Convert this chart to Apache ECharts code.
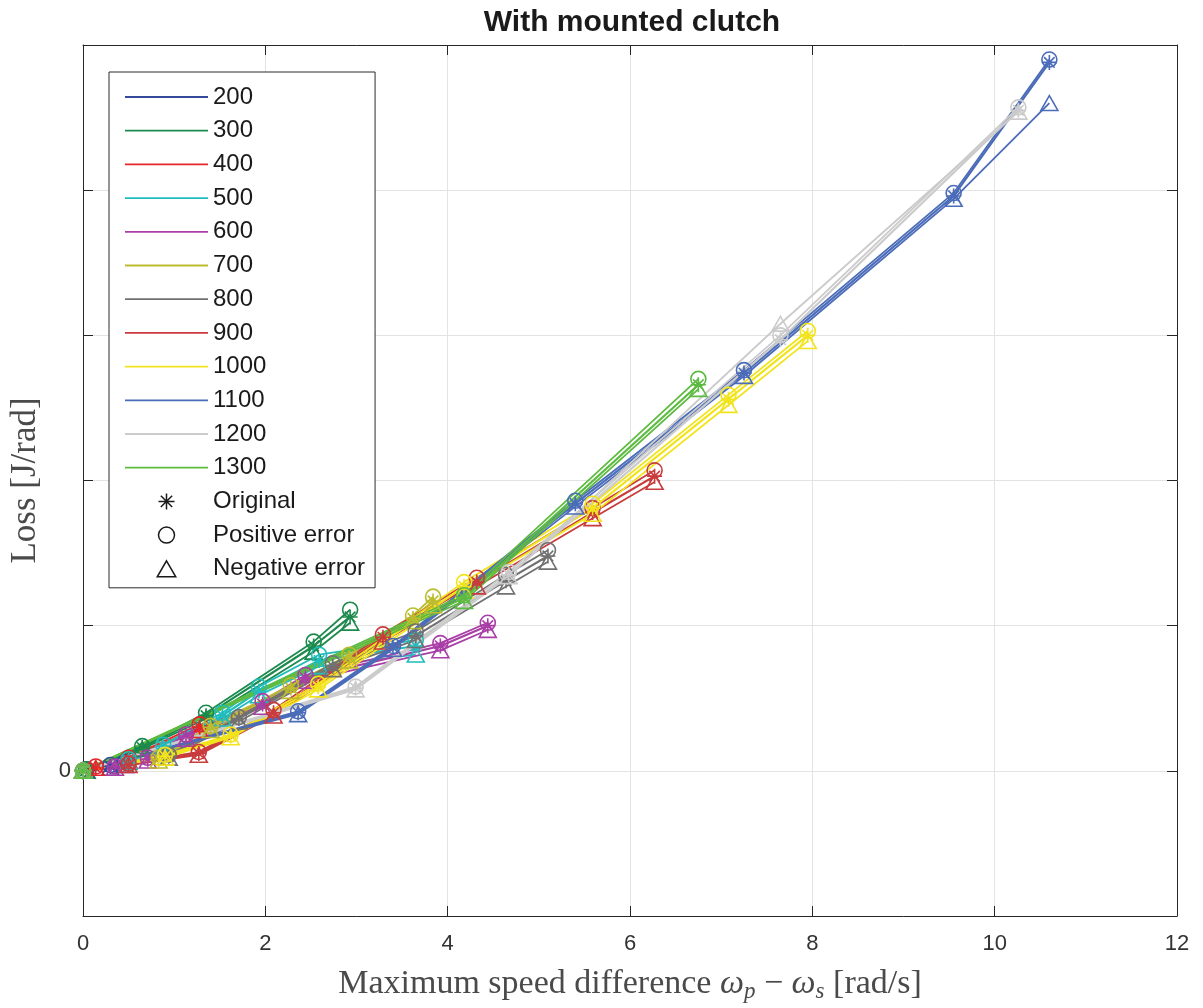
<!DOCTYPE html>
<html>
<head>
<meta charset="utf-8">
<title>With mounted clutch</title>
<script src="https://cdn.jsdelivr.net/npm/echarts@6/dist/echarts.min.js"></script>
<style>
  html, body { margin: 0; padding: 0; background: #ffffff; overflow: hidden; }
  #chart { width: 1203px; height: 1008px; }
</style>
</head>
<body>
<div id="chart"></div>
<script>
// Loss per radian against maximum speed difference, one curve family per speed.
// Each family: original estimate plus positive and negative error bounds.

const speeds = ['200', '300', '400', '500', '600', '700', '800', '900', '1000', '1100', '1200', '1300'];

const x200 = [0, 0.04, 0.30, 0.46];
const orig200 = [0, 0.01, 0.03, 0.05];
const pos200 = [0, 0.01, 0.04, 0.06];
const neg200 = [0, 0.00, 0.02, 0.04];

const x300 = [0, 0.03, 0.65, 1.35, 2.53, 2.93];
const orig300 = [0, 0.01, 0.16, 0.38, 0.86, 1.06];
const pos300 = [0, 0.01, 0.17, 0.40, 0.89, 1.11];
const neg300 = [0, 0.00, 0.15, 0.36, 0.82, 1.02];

const x400 = [0, 0.14, 0.50, 1.28];
const orig400 = [0, 0.02, 0.08, 0.30];
const pos400 = [0, 0.03, 0.09, 0.32];
const neg400 = [0, 0.02, 0.07, 0.28];

const x500 = [0, 0.50, 0.88, 1.53, 1.93, 2.59, 3.65];
const orig500 = [0, 0.07, 0.17, 0.38, 0.55, 0.76, 0.86];
const pos500 = [0, 0.08, 0.18, 0.40, 0.58, 0.80, 0.90];
const neg500 = [0, 0.06, 0.16, 0.36, 0.52, 0.72, 0.80];

const x600 = [0, 0.35, 0.71, 1.13, 1.97, 2.44, 3.92, 4.44];
const orig600 = [0, 0.03, 0.08, 0.24, 0.46, 0.64, 0.86, 1.00];
const pos600 = [0, 0.03, 0.09, 0.25, 0.48, 0.66, 0.88, 1.02];
const neg600 = [0, 0.02, 0.07, 0.22, 0.44, 0.62, 0.83, 0.97];

const x700 = [0, 0.83, 1.40, 2.28, 2.92, 3.62, 3.84];
const orig700 = [0, 0.08, 0.30, 0.57, 0.78, 1.05, 1.17];
const pos700 = [0, 0.09, 0.31, 0.59, 0.80, 1.07, 1.20];
const neg700 = [0, 0.07, 0.28, 0.55, 0.76, 1.03, 1.14];

const x800 = [0, 0.94, 1.71, 2.74, 3.65, 4.64, 5.10];
const orig800 = [0, 0.10, 0.36, 0.72, 0.93, 1.31, 1.48];
const pos800 = [0, 0.11, 0.37, 0.74, 0.96, 1.35, 1.52];
const neg800 = [0, 0.09, 0.34, 0.70, 0.90, 1.27, 1.44];

const x900 = [0, 0.50, 1.27, 2.09, 3.29, 4.32, 5.59, 6.27];
const orig900 = [0, 0.04, 0.12, 0.40, 0.92, 1.30, 1.78, 2.03];
const pos900 = [0, 0.05, 0.13, 0.42, 0.94, 1.33, 1.81, 2.07];
const neg900 = [0, 0.04, 0.11, 0.38, 0.89, 1.27, 1.74, 1.99];

const x1000 = [0, 0.90, 1.62, 2.58, 4.18, 5.59, 7.08, 7.95];
const orig1000 = [0, 0.10, 0.24, 0.58, 1.27, 1.81, 2.56, 3.00];
const pos1000 = [0, 0.11, 0.25, 0.60, 1.30, 1.84, 2.59, 3.03];
const neg1000 = [0, 0.09, 0.23, 0.56, 1.24, 1.77, 2.52, 2.96];

const x1100 = [0, 2.36, 3.40, 5.40, 7.25, 9.55, 10.60];
const orig1100 = [0, 0.40, 0.85, 1.84, 2.74, 3.96, 4.88];
const pos1100 = [0, 0.41, 0.86, 1.86, 2.76, 3.98, 4.90];
const neg1100 = [0, 0.39, 0.84, 1.82, 2.72, 3.94, 4.60];

const x1200 = [0, 2.99, 4.67, 7.65, 10.26];
const orig1200 = [0, 0.57, 1.35, 2.97, 4.55];
const pos1200 = [0, 0.58, 1.37, 3.00, 4.57];
const neg1200 = [0, 0.56, 1.34, 3.08, 4.54];

const x1300 = [0, 4.18, 6.75];
const orig1300 = [0, 1.19, 2.66];
const pos1300 = [0, 1.21, 2.70];
const neg1300 = [0, 1.17, 2.63];

const boundNames = ['Original', 'Positive error', 'Negative error'];

// line colours, one per speed
const palette = ['#34499c', '#1b8a4c', '#e4262a', '#22bcbc', '#a93ea6', '#bcbc2e',
                 '#717171', '#c93b3c', '#f2e41c', '#4b6cb8', '#cbcbcb', '#5dbb41'];

const families = [
  [x200, orig200, pos200, neg200], [x300, orig300, pos300, neg300],
  [x400, orig400, pos400, neg400], [x500, orig500, pos500, neg500],
  [x600, orig600, pos600, neg600], [x700, orig700, pos700, neg700],
  [x800, orig800, pos800, neg800], [x900, orig900, pos900, neg900],
  [x1000, orig1000, pos1000, neg1000], [x1100, orig1100, pos1100, neg1100],
  [x1200, orig1200, pos1200, neg1200], [x1300, orig1300, pos1300, neg1300]
];

const ASTERISK = 'path://M10,0 L10,20 M0,10 L20,10 M2.93,2.93 L17.07,17.07 M2.93,17.07 L17.07,2.93';
const TRIANGLE = 'path://M10,0 L20,17.32 L0,17.32 Z';
const markers = [ASTERISK, 'circle', TRIANGLE];
const LEGEND_LINE = 'path://M0,0 L83,0 L83,1.8 L0,1.8 Z';

const pairs = (xs, ys) => xs.map((v, i) => [v, ys[i]]);

const series = [];
families.forEach((fam, g) => {
  const c = palette[g];
  for (let k = 0; k < 3; k++) {
    series.push({
      name: speeds[g],
      type: 'line',
      data: pairs(fam[0], fam[k + 1]),
      symbol: markers[k],
      symbolSize: k === 2 ? 17 : 15,
      symbolKeepAspect: true,
      showAllSymbol: true,
      lineStyle: { color: c, width: k === 0 ? 2.2 : 1.8 },
      itemStyle: { color: 'none', borderColor: c, borderWidth: 1.6 },
      emphasis: { disabled: true },
      z: 2
    });
  }
});
// entries that only describe the marker meaning
boundNames.forEach((n) => {
  series.push({
    name: n, type: 'line', data: [],
    itemStyle: { color: 'none', borderColor: '#222', borderWidth: 1.5 },
    lineStyle: { color: '#222' }
  });
});

const legendData = speeds.map((s, g) => ({
  name: s, icon: LEGEND_LINE,
  itemStyle: { color: palette[g], borderWidth: 0, borderColor: palette[g] }
})).concat(boundNames.map((n, k) => ({
  name: n, icon: markers[k],
  itemStyle: { color: 'none', borderColor: '#1a1a1a', borderWidth: 1.5 }
})));

const axisDark = '#262626';
const serif = '"Liberation Serif", "DejaVu Serif", serif';
const sans = '"Liberation Sans", Arial, Helvetica, sans-serif';
const labelGrey = '#4a4a4a';

const chart = echarts.init(document.getElementById('chart'), null, { renderer: 'canvas' });
chart.setOption({
  animation: false,
  backgroundColor: '#ffffff',
  title: {
    text: 'With mounted clutch',
    left: 627, top: 3, textAlign: 'center',
    textStyle: { fontFamily: sans, fontSize: 30, fontWeight: 'bold', color: '#1a1a1a' }
  },
  grid: { left: 82, right: 26, top: 45, bottom: 86, containLabel: false },
  legend: {
    orient: 'vertical', left: 109, top: 72,
    padding: [13, 10, 7, 16],
    itemWidth: 83, itemHeight: 16, itemGap: 9.7,
    symbolKeepAspect: true,
    backgroundColor: '#ffffff', borderColor: '#2b2b2b', borderWidth: 1, borderRadius: 0,
    textStyle: { fontFamily: sans, fontSize: 24, color: '#1a1a1a' },
    data: legendData,
    selectedMode: false
  },
  xAxis: [{
    type: 'value', min: 0, max: 12, interval: 2,
    name: 'Maximum speed difference {i|ω}{s|p}{n| − }{i|ω}{s|s}{n| [rad/s]}',
    nameLocation: 'middle', nameGap: 50,
    nameTextStyle: {
      fontFamily: serif, fontSize: 34, color: labelGrey,
      rich: {
        i: { fontFamily: serif, fontStyle: 'italic', fontSize: 34, color: labelGrey },
        s: { fontFamily: serif, fontStyle: 'italic', fontSize: 23, color: labelGrey, padding: [14, 0, 0, 0] },
        n: { fontFamily: serif, fontSize: 34, color: labelGrey }
      }
    },
    axisLine: { show: true, onZero: false, lineStyle: { color: axisDark, width: 1 } },
    axisTick: { show: true, inside: true, length: 10, lineStyle: { color: axisDark } },
    axisLabel: { fontFamily: sans, fontSize: 22, color: '#333333', margin: 17 },
    splitLine: { show: true, lineStyle: { color: '#e3e3e3', width: 1 } }
  }, {
    type: 'value', min: 0, max: 12, interval: 2, position: 'top',
    axisLine: { show: true, onZero: false, lineStyle: { color: axisDark, width: 1 } },
    axisTick: { show: true, inside: true, length: 10, lineStyle: { color: axisDark } },
    axisLabel: { show: false }, splitLine: { show: false }
  }],
  yAxis: [{
    type: 'value', min: -1, max: 5, interval: 1,
    name: 'Loss [J/rad]', nameLocation: 'middle', nameGap: 40,
    nameTextStyle: { fontFamily: serif, fontSize: 35, color: labelGrey },
    axisLine: { show: true, onZero: false, lineStyle: { color: axisDark, width: 1 } },
    axisTick: { show: true, inside: true, length: 10, lineStyle: { color: axisDark } },
    axisLabel: {
      fontFamily: sans, fontSize: 22, color: '#333333', margin: 12,
      formatter: (v) => (v === 0 ? '0' : '')
    },
    splitLine: { show: true, lineStyle: { color: '#e3e3e3', width: 1 } }
  }, {
    type: 'value', min: -1, max: 5, interval: 1, position: 'right',
    axisLine: { show: true, onZero: false, lineStyle: { color: axisDark, width: 1 } },
    axisTick: { show: true, inside: true, length: 10, lineStyle: { color: axisDark } },
    axisLabel: { show: false }, splitLine: { show: false }
  }],
  series: series
});
</script>
</body>
</html>
